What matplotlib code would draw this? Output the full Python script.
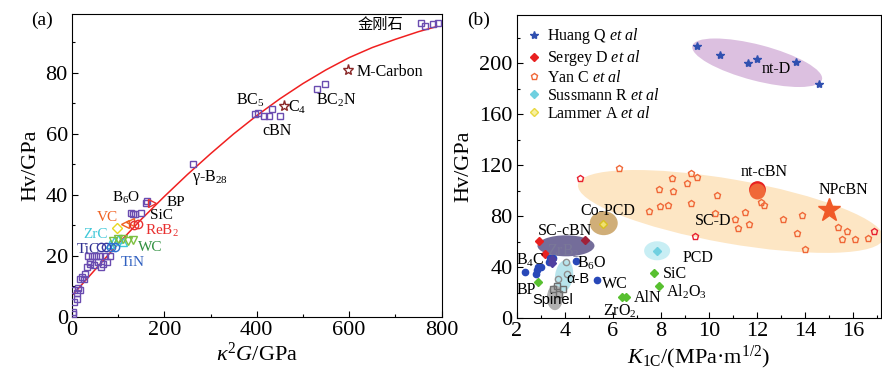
import matplotlib
matplotlib.use("Agg")
import matplotlib.pyplot as plt
from matplotlib.patches import Ellipse
from matplotlib import transforms
from matplotlib.ticker import MultipleLocator
from matplotlib.lines import Line2D

plt.rcParams['font.family'] = ['Liberation Serif', 'DejaVu Serif']
plt.rcParams['mathtext.fontset'] = 'custom'
plt.rcParams['mathtext.rm'] = 'Liberation Serif'
plt.rcParams['mathtext.it'] = 'Liberation Serif:italic'
plt.rcParams['mathtext.bf'] = 'Liberation Serif:bold'

# ---------------- Panel (a) data ----------------
sq_x = [2, 3, 5, 4, 10, 14, 18, 10, 22, 18, 25, 28, 32, 34, 38, 40, 44, 48, 52, 56, 60, 62, 68, 72, 76, 82,
        127, 132, 137, 150, 160, 163, 263, 397, 402, 416, 426, 432, 451, 530, 548, 755, 765, 782, 792]
sq_y = [1.5, 1.0, 5.0, 9.0, 6.0, 9.5, 9.0, 8.0, 13.0, 12.5, 12.5, 14.0, 16.5, 20.0, 17.5, 18.0, 20.0, 17.0,
        20.0, 18.0, 20.0, 16.5, 17.5, 20.0, 18.0, 20.0,
        34.0, 33.7, 33.7, 34.0, 37.3, 38.0, 50.0, 66.4, 67.0, 66.0, 66.0, 68.0, 66.0, 74.8, 76.2,
        96.5, 95.5, 96.0, 96.5]
star_x = [459, 597]
star_y = [69, 81]
bp_x, bp_y = [173], [37.5]
vcd_x, vcd_y = [98], [29]
vct_x, vct_y = [115, 125], [30.5, 31]
reb_x, reb_y = [135, 144], [30, 30.5]
zrc_x, zrc_y = [82, 90, 100, 110], [24, 25, 25.5, 24.5]
wc_x, wc_y = [89, 100, 111, 122, 133], [25, 25.4, 25.4, 25, 25.2]
tic_x, tic_y = [63, 74], [22.8, 22.8]
tin_x, tin_y = [84, 92.5], [22.8, 22.8]
curve_x = [3, 50, 100, 150, 200, 250, 300, 350, 400, 450, 500, 550, 600, 650, 700, 750, 790]
curve_y = [7.5, 15.5, 24, 32, 39.5, 46.7, 53.5, 60, 66, 71.5, 76.5, 81, 85, 88.3, 91, 93.5, 95.2]

labels_a = [
    ("金刚石", 667, 96, 'black'), ("M-Carbon", 689, 80.3, 'black'), ("BC$_2$N", 573, 71, 'black'),
    ("C$_4$", 487, 68.6, 'black'), ("BC$_5$", 386, 71, 'black'), ("cBN", 445, 61, 'black'),
    ("γ-B$_{28}$", 299, 45.7, 'black'), ("B$_6$O", 118, 38.9, 'black'), ("BP", 225, 37.5, 'black'),
    ("SiC", 194, 33.4, 'black'), ("VC", 76, 32.5, '#f06020'), ("ReB$_2$", 194, 28.2, '#e83030'),
    ("ZrC", 50, 27, '#40c8d8'), ("WC", 169, 22.8, '#309040'), ("TiC", 35, 22.1, '#303090'),
    ("TiN", 131, 18.0, '#3060c0'),
]

# ---------------- Panel (b) data ----------------
huang_x = [9.51, 10.45, 11.62, 12.0, 13.6, 14.56]
huang_y = [214, 206.5, 200, 203.5, 201, 183.7]
sergey_x = [2.94, 3.18]
sergey_y = [60.2, 50.4]
sergey2_x, sergey2_y = [4.84], [61]
yan_x = [6.26, 8.44, 9.23, 9.48, 9.09, 7.9, 8.49, 10.32, 7.95, 8.3, 9.23, 7.5, 10.24, 11.08, 11.48, 11.2,
         11.64, 12.14, 12.28, 13.08, 13.87, 13.64, 15.36, 15.75, 15.51, 16.05, 16.6, 14.0]
yan_y = [117.8, 109.7, 113.9, 110.7, 106, 101, 99.4, 96.7, 88.3, 89, 90, 83.7, 82.7, 77.9, 83.5, 70.8,
         74.2, 91.4, 88.5, 77.4, 80.6, 66.8, 71.6, 68.4, 62.1, 62.1, 62.8, 54]
yan2_x = [4.63, 9.4, 16.86]
yan2_y = [110, 64.1, 68.6]
suss_x, suss_y = [7.84], [52.8]
lam_x, lam_y = [5.6], [74]
ntcbn_x, ntcbn_y = [12.0], [100]
npcbn_x, npcbn_y = [15.0], [85]
blue_x = [2.35, 2.83, 3.0, 2.87, 2.79, 3.38, 3.5, 3.36, 4.45, 5.32]
blue_y = [36.4, 37.7, 39.8, 40.3, 34.5, 47, 47.5, 44.3, 45, 29.8]
zrb_x, zrb_y = [3.45, 3.45], [46, 43.5]
green_x = [2.9, 7.7, 7.91, 6.4, 6.55]
green_y = [28.4, 35, 25, 16.5, 16.5]
ab_x, ab_y = [4.05, 4.1, 3.73], [44.3, 34.3, 30.3]
sp_x, sp_y = [3.5, 3.69, 3.91, 3.77], [23, 25, 23, 19.2]

labels_b = [
    ("nt-D", 12.8, 195.6, 'black', 'serif'), ("nt-cBN", 12.3, 114.4, 'black', 'serif'),
    ("NPcBN", 15.57, 100.6, 'black', 'serif'), ("SC-D", 10.17, 76, 'black', 'serif'),
    ("Co-PCD", 5.8, 84, 'black', 'serif'), ("SC-cBN", 4.0, 68, 'black', 'serif'),
    ("ZrB$_2$", 3.94, 52.2, '#7a7898', 'serif'), ("B$_4$C", 2.58, 45.6, 'black', 'serif'),
    ("B$_6$O", 5.12, 43, 'black', 'serif'), ("α-B", 4.56, 31, 'black', 'sans'),
    ("WC", 6.08, 26.6, 'black', 'serif'), ("PCD", 9.55, 47, 'black', 'serif'),
    ("SiC", 8.58, 34.2, 'black', 'serif'), ("Al$_2$O$_3$", 9.05, 20.8, 'black', 'serif'),
    ("AlN", 7.43, 15.5, 'black', 'serif'), ("ZrO$_2$", 6.29, 5.5, 'black', 'serif'),
    ("BP", 2.42, 21.8, 'black', 'serif'), ("Spinel", 3.5, 13.8, 'black', 'sans'),
]

# (center_x, center_y, width_in, height_in, angle, color, alpha)
ellipses_b = [
    (10.9, 83.7, 3.10, 0.64, -10, '#fde6c4', 1.0),
    (12.0, 200.5, 1.34, 0.36, -14.6, '#dcc0e0', 1.0),
    (4.05, 56.7, 0.57, 0.21, 0, '#5c5488', 0.85),
    (5.62, 74.5, 0.28, 0.24, 0, '#c8a060', 0.85),
    (7.84, 52.8, 0.26, 0.19, 0, '#c8eef4', 1.0),
    (3.97, 33.0, 0.18, 0.32, -8, '#b8e4ec', 1.0),
    (3.59, 16.0, 0.16, 0.25, 0, '#b0b0b0', 1.0),
]

fig = plt.figure(figsize=(8.82, 3.78), dpi=100, facecolor='white')

# ---------------- Panel (a) ----------------
ax = fig.add_axes([0.0816, 0.1614, 0.419, 0.8016])
ax.plot(curve_x, curve_y, color='#f02020', lw=1.1, zorder=2)
ax.plot(sq_x, sq_y, ls='none', marker='s', ms=5, mfc='none', mec='#6a4cb0', mew=1.0, zorder=3)
ax.plot(star_x, star_y, ls='none', marker='*', ms=8, mfc='none', mec='#8a2828', mew=1.0, zorder=3)
ax.plot(bp_x, bp_y, ls='none', marker='>', ms=6, mfc='none', mec='#e83030', mew=1.0, zorder=3)
ax.plot(vcd_x, vcd_y, ls='none', marker='D', ms=5, mfc='none', mec='#e8d820', mew=1.0, zorder=3)
ax.plot(vct_x, vct_y, ls='none', marker='<', ms=6, mfc='none', mec='#f06020', mew=1.0, zorder=3)
ax.plot(reb_x, reb_y, ls='none', marker='o', ms=6, mfc='none', mec='#e83030', mew=1.0, zorder=3)
ax.plot(zrc_x, zrc_y, ls='none', marker='^', ms=6, mfc='none', mec='#40c8d8', mew=1.0, zorder=3)
ax.plot(wc_x, wc_y, ls='none', marker='v', ms=6, mfc='none', mec='#7cc040', mew=1.0, zorder=3)
ax.plot(tic_x, tic_y, ls='none', marker='o', ms=6, mfc='none', mec='#3838a0', mew=1.0, zorder=3)
ax.plot(tin_x, tin_y, ls='none', marker='o', ms=6, mfc='none', mec='#3070d0', mew=1.0, zorder=3)

for txt, x, y, c in labels_a:
    if txt == "金刚石":
        ax.text(x, y, txt, color=c, fontsize=11, ha='center', va='center',
                family=['Noto Sans CJK SC', 'DejaVu Sans'])
    elif x < 260:
        ax.text(x, y, txt, color=c, fontsize=11, ha='center', va='center')
    else:
        ax.text(x, y, txt, color=c, fontsize=11.5, ha='center', va='center')

ax.set_xlim(0, 800)
ax.set_ylim(0, 99.3)
ax.xaxis.set_major_locator(MultipleLocator(200))
ax.xaxis.set_minor_locator(MultipleLocator(100))
ax.yaxis.set_major_locator(MultipleLocator(20))
ax.yaxis.set_minor_locator(MultipleLocator(10))
ax.tick_params(which='both', direction='in', labelsize=16, pad=3, width=0.8)
ax.tick_params(which='major', length=4)
ax.tick_params(which='minor', length=2.5)
ax.set_xlabel(r"$\kappa^2G$/GPa", fontsize=16, labelpad=2)
ax.set_ylabel("Hv/GPa", fontsize=16, labelpad=4)
for s in ax.spines.values():
    s.set_linewidth(0.8)
fig.text(0.035, 0.945, "(a)", fontsize=14, ha='left', va='center')

# ---------------- Panel (b) ----------------
bx = fig.add_axes([0.5858, 0.1587, 0.4131, 0.8016])
bx.set_xlim(2, 17.15)
bx.set_ylim(0, 238)

for cx, cy, w, h, ang, col, al in ellipses_b:
    tr = fig.dpi_scale_trans + transforms.ScaledTranslation(cx, cy, bx.transData)
    e = Ellipse((0, 0), w, h, angle=ang, transform=tr, facecolor=col, edgecolor='none', alpha=al, zorder=1)
    bx.add_patch(e)

bx.plot(huang_x, huang_y, ls='none', marker='*', ms=6, color='#3050b0', zorder=3)
bx.plot(yan_x, yan_y, ls='none', marker='p', ms=5, mfc='none', mec='#f06838', mew=1.0, zorder=3)
bx.plot(yan2_x, yan2_y, ls='none', marker='p', ms=5, mfc='none', mec='#e82030', mew=1.0, zorder=3)
bx.plot(sergey_x, sergey_y, ls='none', marker='D', ms=4, color='#e82020', zorder=3)
bx.plot(sergey2_x, sergey2_y, ls='none', marker='D', ms=4, color='#a02038', zorder=3)
bx.plot(suss_x, suss_y, ls='none', marker='D', ms=4, color='#70d0e0', zorder=3)
bx.plot(lam_x, lam_y, ls='none', marker='D', ms=4, mfc='#f0e070', mec='#d8c020', zorder=3)
bx.plot(blue_x, blue_y, ls='none', marker='o', ms=4.5, color='#2848b8', zorder=3)
bx.plot(zrb_x, zrb_y, ls='none', marker='D', ms=4, color='#5040a0', zorder=3)
bx.plot(green_x, green_y, ls='none', marker='D', ms=4.5, color='#58c030', zorder=3)
bx.plot(ab_x, ab_y, ls='none', marker='o', ms=4.5, mfc='none', mec='#909090', mew=1.0, zorder=3)
bx.plot(sp_x, sp_y, ls='none', marker='s', ms=4, mfc='none', mec='#707070', mew=1.0, zorder=3)
bx.plot(ntcbn_x, [ntcbn_y[0] + 1], ls='none', marker='o', ms=11, color='#e82020', zorder=3)
bx.plot(ntcbn_x, ntcbn_y, ls='none', marker='o', ms=10.5, color='#f06838', zorder=3)
bx.plot(npcbn_x, npcbn_y, ls='none', marker='*', ms=17, color='#f05a28', zorder=3)

for txt, x, y, c, fam in labels_b:
    if fam == 'sans':
        bx.text(x, y, txt, color=c, fontsize=10.5, ha='center', va='center', family=['Liberation Sans'])
    else:
        bx.text(x, y, txt, color=c, fontsize=11.5, ha='center', va='center')

handles = [
    Line2D([], [], ls='none', marker='*', ms=6, color='#3050b0'),
    Line2D([], [], ls='none', marker='D', ms=4, color='#e82020'),
    Line2D([], [], ls='none', marker='p', ms=5, mfc='none', mec='#f06838', mew=1.0),
    Line2D([], [], ls='none', marker='D', ms=4, color='#70d0e0'),
    Line2D([], [], ls='none', marker='D', ms=4, mfc='#f8f0a0', mec='#e8d840'),
]
leg_labels = [r"Huang Q $\mathit{et\ al}$", r"Sergey D $\mathit{et\ al}$", r"Yan C $\mathit{et\ al}$",
              r"Sussmann R $\mathit{et\ al}$", r"Lammer A $\mathit{et\ al}$"]
bx.legend(handles, leg_labels, loc='upper left', bbox_to_anchor=(0.0, 1.0), frameon=False,
          fontsize=11.5, handlelength=0.8, handletextpad=0.4, labelspacing=0.12,
          borderaxespad=0.5, borderpad=0.2)

bx.xaxis.set_major_locator(MultipleLocator(2))
bx.xaxis.set_minor_locator(MultipleLocator(1))
bx.yaxis.set_major_locator(MultipleLocator(40))
bx.yaxis.set_minor_locator(MultipleLocator(20))
bx.tick_params(which='both', direction='in', labelsize=16, pad=3, width=0.8)
bx.tick_params(which='major', length=4)
bx.tick_params(which='minor', length=2.5)
bx.set_xlabel(r"$K_{\mathrm{1C}}$/(MPa·m$^{1/2}$)", fontsize=16, labelpad=2)
bx.set_ylabel("Hv/GPa", fontsize=16, labelpad=4)
for s in bx.spines.values():
    s.set_linewidth(0.8)
fig.text(0.53, 0.945, "(b)", fontsize=14, ha='left', va='center')

fig.savefig("out.png", dpi=100, facecolor='white')
